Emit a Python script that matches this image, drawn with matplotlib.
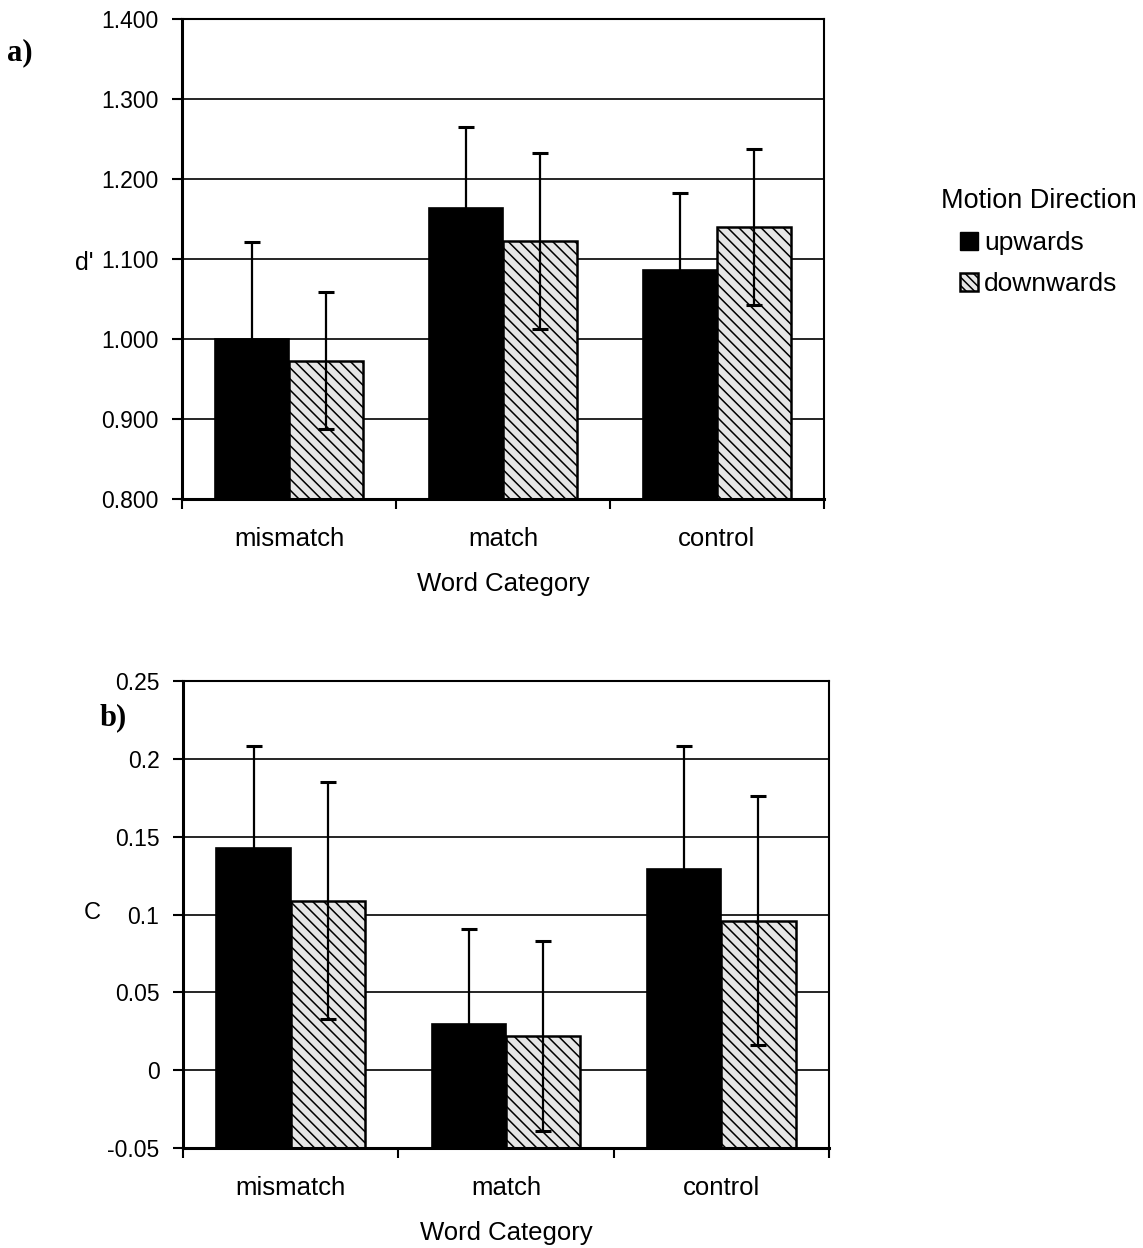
import numpy as np
import matplotlib
matplotlib.use('Agg')
import matplotlib.pyplot as plt
from matplotlib.patches import Patch
from matplotlib.ticker import FuncFormatter

plt.rcParams['font.family'] = ['Liberation Sans', 'DejaVu Sans']
plt.rcParams['hatch.linewidth'] = 1.1

# Word categories and motion directions
categories = ['mismatch', 'match', 'control']
directions = ['upwards', 'downwards']

# a) sensitivity d'
dprime_up = [1.000, 1.164, 1.086]
dprime_down = [0.973, 1.123, 1.140]
dprime_up_err = [0.121, 0.101, 0.096]
dprime_down_err = [0.086, 0.110, 0.097]

# b) response criterion C
crit_up = [0.143, 0.030, 0.129]
crit_down = [0.109, 0.022, 0.096]
crit_up_err = [0.065, 0.061, 0.079]
crit_down_err = [0.076, 0.061, 0.080]

fig = plt.figure(figsize=(11.43, 12.48), dpi=100)
ax_a = fig.add_axes([0.1592, 0.6002, 0.5617, 0.3846])
ax_b = fig.add_axes([0.1601, 0.0801, 0.5652, 0.3742])

width = 0.345
x = np.arange(len(categories))
err_kw = dict(ecolor='black', elinewidth=1.6, capsize=6, capthick=2.2)
hatch_face = '#e6e6e6'


def draw_panel(ax, up, down, up_err, down_err, ylim, yticks, fmt):
    # bars rise from the floor of the value axis, not from zero
    floor = ylim[0]
    ax.bar(x - width / 2, np.array(up) - floor, width, bottom=floor,
           color='black', edgecolor='black', linewidth=1.2,
           yerr=up_err, error_kw=err_kw)
    ax.bar(x + width / 2, np.array(down) - floor, width, bottom=floor,
           color=hatch_face, edgecolor='black', linewidth=1.8, hatch='\\\\\\',
           yerr=down_err, error_kw=err_kw)
    ax.set_ylim(*ylim)
    ax.set_xlim(-0.5, 2.5)
    ax.set_yticks(yticks)
    ax.yaxis.set_major_formatter(FuncFormatter(fmt))
    ax.set_axisbelow(True)
    ax.yaxis.grid(True, color='black', linewidth=1.2)
    # tick marks between the categories, labels centred under each group
    ax.set_xticks([-0.5, 0.5, 1.5, 2.5])
    ax.set_xticklabels([])
    ax.set_xticks(x, minor=True)
    ax.set_xticklabels(categories, minor=True)
    ax.tick_params(axis='x', which='major', direction='out', length=7, width=1.5)
    ax.tick_params(axis='x', which='minor', length=0, pad=20, labelsize=18.5)
    ax.tick_params(axis='y', direction='out', length=7, width=1.5, pad=10,
                   labelsize=16.5)
    for s in ax.spines.values():
        s.set_linewidth(1.5)
    ax.spines['left'].set_linewidth(2.2)
    ax.spines['bottom'].set_linewidth(2.2)
    ax.set_xlabel('Word Category', fontsize=18.5, labelpad=15)


draw_panel(ax_a, dprime_up, dprime_down, dprime_up_err, dprime_down_err,
           (0.8, 1.4), np.arange(0.8, 1.401, 0.1),
           lambda v, p: f'{v:.3f}')
draw_panel(ax_b, crit_up, crit_down, crit_up_err, crit_down_err,
           (-0.05, 0.25), np.arange(-0.05, 0.2501, 0.05),
           lambda v, p: f'{round(v, 3):g}')

fig.text(0.0656, 0.7893, "d'", fontsize=18, ha='left', va='center')
fig.text(0.0735, 0.2684, 'C', fontsize=17, ha='left', va='center')
fig.text(0.006, 0.958, 'a)', fontsize=22, family='Liberation Serif',
         weight='bold', ha='left', va='center')
fig.text(0.087, 0.425, 'b)', fontsize=22, family='Liberation Serif',
         weight='bold', ha='left', va='center')

handles = [Patch(facecolor='black', edgecolor='black', label=directions[0]),
           Patch(facecolor=hatch_face, edgecolor='black', hatch='\\\\\\\\',
                 linewidth=1.8, label=directions[1])]
leg = fig.legend(handles=handles, title='Motion Direction', loc='center',
                 bbox_to_anchor=(0.909, 0.806), frameon=False, fontsize=19,
                 title_fontsize=19.5, handlelength=0.65, handleheight=0.65,
                 handletextpad=0.25, labelspacing=0.65)

fig.savefig('out.png', dpi=100)
